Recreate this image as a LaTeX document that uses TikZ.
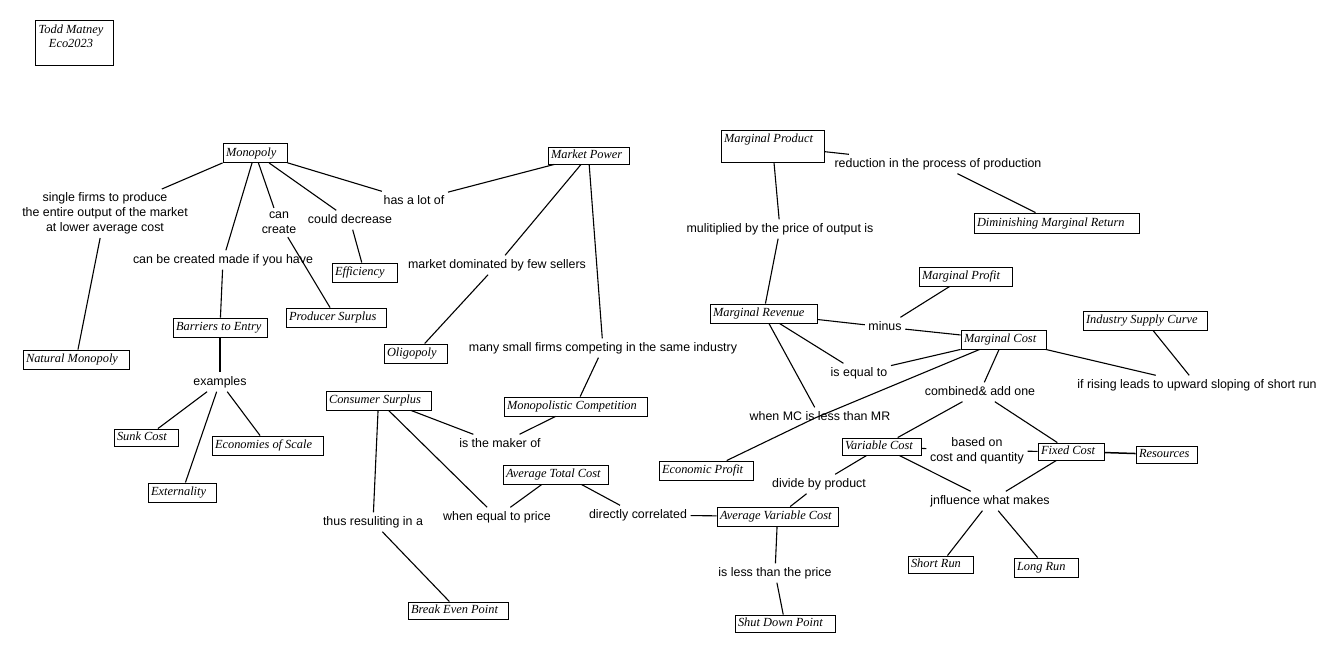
\documentclass[tikz,border=0pt]{standalone}
\usepackage{fontspec}
\setmainfont{Liberation Serif}
\newfontfamily\lblfam{Liberation Sans}
\newcommand\bxt[2]{\makebox[#1pt][l]{\hspace{3pt}#2}}
\begin{document}
\begin{tikzpicture}[x=1pt,y=-1pt,
  bxbase/.style={draw, line width=0.9pt, inner sep=0pt, font=\fontsize{12.4}{14}\selectfont\itshape},
  box/.style={bxbase, minimum height=#1, text height=9pt, text depth=3pt},
  box/.default=19pt,
  lbl/.style={inner sep=3.5pt, font=\lblfam\fontsize{12.4}{15}\selectfont, text height=9pt, text depth=3pt},
  lbll/.style={inner sep=3.5pt, font=\lblfam\fontsize{12.4}{15}\selectfont, align=center},
  conn/.style={line width=1.1pt}]
\fill[white] (0,0) rectangle (1339,653);
\useasboundingbox (0,0) rectangle (1339,653);

% boxes
\node[bxbase, minimum height=45pt, minimum width=78pt] (todd) at (74,42.5)
  {\makebox[78pt][l]{\parbox[c][45pt][t]{72pt}{\centering\rule{0pt}{13pt}Todd Matney\\Eco2023}}};
\node[bxbase, minimum height=32pt] (mprod) at (772.5,146)
  {\parbox[c][32pt][t]{103pt}{\rule{0pt}{12pt}\hspace{3pt}Marginal Product}};
\node[box] (mono) at (255,153) {\bxt{64}{Monopoly}};
\node[box=17pt] (mktpow) at (588.5,155.5) {\bxt{81}{Market Power}};
\node[box=20pt] (dmr) at (1056.5,223) {\bxt{165}{Diminishing Marginal Return}};
\node[box] (eff) at (364.5,272.5) {\bxt{65}{Efficiency}};
\node[box] (prods) at (336,317.5) {\bxt{100}{Producer Surplus}};
\node[box] (barr) at (220,327.5) {\bxt{94}{Barriers to Entry}};
\node[box] (natmon) at (76,359.5) {\bxt{106}{Natural Monopoly}};
\node[box] (olig) at (415.5,353.5) {\bxt{63}{Oligopoly}};
\node[box] (cons) at (378.5,400.5) {\bxt{105}{Consumer Surplus}};
\node[box=17pt] (sunk) at (146,437.5) {\bxt{64}{Sunk Cost}};
\node[box] (eos) at (267.5,445.5) {\bxt{111}{Economies of Scale}};
\node[box] (ext) at (182,492.5) {\bxt{68}{Externality}};
\node[box] (mcomp) at (575.5,406.5) {\bxt{143}{Monopolistic Competition}};
\node[box] (atc) at (555.5,474.5) {\bxt{105}{Average Total Cost}};
\node[box=17pt] (bep) at (458,610.5) {\bxt{100}{Break Even Point}};
\node[box] (ep) at (706,470.5) {\bxt{94}{Economic Profit}};
\node[box] (avc) at (777.5,516.5) {\bxt{121}{Average Variable Cost}};
\node[box=17pt] (sdp) at (785,623.5) {\bxt{100}{Shut Down Point}};
\node[box=17pt] (vc) at (881.5,446.5) {\bxt{79}{Variable Cost}};
\node[box=17pt] (fc) at (1071,451.5) {\bxt{66}{Fixed Cost}};
\node[box=17pt] (res) at (1166.5,454.5) {\bxt{61}{Resources}};
\node[box=17pt] (sr) at (940.5,564.5) {\bxt{65}{Short Run}};
\node[box] (lr) at (1046,567.5) {\bxt{64}{Long Run}};
\node[box] (mrev) at (763.5,313.5) {\bxt{107}{Marginal Revenue}};
\node[box] (mprof) at (965.5,276.5) {\bxt{93}{Marginal Profit}};
\node[box] (mcost) at (1003.5,339.5) {\bxt{85}{Marginal Cost}};
\node[box] (isc) at (1145,320.5) {\bxt{124}{Industry Supply Curve}};

% labels
\node[lbll] (single) at (105,213.5) {single firms to produce\\the entire output of the market\\at lower average cost};
\node[lbl] (canbe) at (223,260) {can be created made if you have};
\node[lbll] (cancreate) at (279,222.5) {can\\create};
\node[lbl] (coulddec) at (350,220) {could decrease};
\node[lbl] (hasalot) at (414,201) {has a lot of};
\node[lbl] (mktdom) at (497,265) {market dominated by few sellers};
\node[lbl] (manysmall) at (603,348) {many small firms competing in the same industry};
\node[lbl] (examples) at (220,382) {examples};
\node[lbl] (thus) at (373,522) {thus resuliting in a};
\node[lbl] (maker) at (500,444) {is the maker of};
\node[lbl] (wheneq) at (497,517) {when equal to price};
\node[lbl] (directly) at (638,515) {directly correlated};
\node[lbl] (isless) at (775,573) {is less than the price};
\node[lbl] (divide) at (819,484) {divide by product};
\node[lbl] (whenmc) at (820,417) {when MC is less than MR};
\node[lbl] (combined) at (980,392) {combined\& add one};
\node[lbll] (basedon) at (977,451) {based on\\cost and quantity};
\node[lbl] (jnfl) at (990,501) {jnfluence what makes};
\node[lbl] (mulit) at (780,229) {mulitiplied by the price of output is};
\node[lbl] (reduction) at (938,164) {reduction in the process of production};
\node[lbl] (minus) at (885,327) {minus};
\node[lbl] (isequal) at (859,373) {is equal to};
\node[lbl] (ifrising) at (1197,385) {if rising leads to upward sloping of short run};

\coordinate (jmc) at (815,418);

% connectors
\draw[conn] (mono.-163) -- (single);
\draw[conn] (single) -- (natmon);
\draw[conn] (mono) -- (canbe);
\draw[conn] (canbe) -- (barr);
\draw[conn] (mono) -- (cancreate);
\draw[conn] (cancreate) -- (prods);
\draw[conn] (mono) -- (coulddec);
\draw[conn] (coulddec) -- (eff);
\draw[conn] (mono) -- (hasalot);
\draw[conn] (hasalot) -- (mktpow);
\draw[conn] (mktpow) -- (mktdom);
\draw[conn] (mktdom) -- (olig);
\draw[conn] (mktpow) -- (manysmall);
\draw[conn] (manysmall) -- (mcomp);
\draw[conn] (barr) -- (examples);
\draw[conn] (examples) -- (sunk);
\draw[conn] (examples) -- (ext);
\draw[conn] (examples) -- (eos);
\draw[conn] (cons) -- (thus);
\draw[conn] (thus) -- (bep);
\draw[conn] (cons) -- (wheneq);
\draw[conn] (cons.-17) -- (maker.160);
\draw[conn] (maker) -- (mcomp);
\draw[conn] (atc) -- (wheneq);
\draw[conn] (atc.-21) -- (directly);
\draw[conn] (directly) -- (avc);
\draw[conn] (mprod) -- (reduction);
\draw[conn] (reduction) -- (dmr);
\draw[conn] (mprod) -- (mulit);
\draw[conn] (mulit) -- (mrev);
\draw[conn] (mrev) -- (minus);
\draw[conn] (minus) -- (mcost);
\draw[conn] (mprof) -- (minus);
\draw[conn] (mrev) -- (isequal);
\draw[conn] (isequal) -- (mcost);
\draw[conn] (mrev) -- (whenmc);
\draw[conn] (mcost) -- (jmc) -- (ep);
\draw[conn] (mcost) -- (combined);
\draw[conn] (combined) -- (vc);
\draw[conn] (combined) -- (fc);
\draw[conn] (vc) -- (basedon);
\draw[conn] (basedon) -- (fc);
\draw[conn, line width=1.5pt] (fc) -- (res);
\draw[conn] (vc) -- (divide);
\draw[conn] (divide) -- (avc);
\draw[conn] (vc) -- (jnfl);
\draw[conn] (fc) -- (jnfl);
\draw[conn] (jnfl) -- (sr);
\draw[conn] (jnfl) -- (lr);
\draw[conn] (avc) -- (isless);
\draw[conn] (isless) -- (sdp);
\draw[conn] (mcost) -- (ifrising);
\draw[conn] (isc) -- (ifrising);
\end{tikzpicture}
\end{document}
